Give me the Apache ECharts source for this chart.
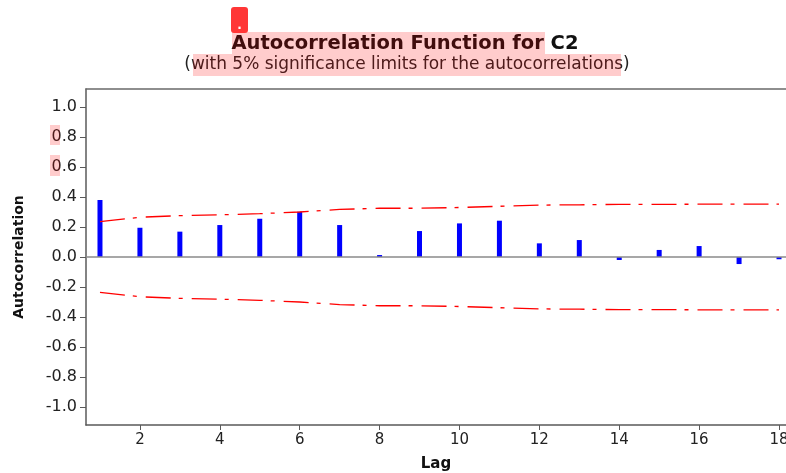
<!DOCTYPE html>
<html>
<head>
<meta charset="utf-8">
<script src="https://cdn.jsdelivr.net/npm/echarts@6/dist/echarts.min.js"></script>
<style>
  html, body { margin: 0; padding: 0; background: #fff; }
  #main { width: 786px; height: 473px; }
</style>
</head>
<body>
<div id="main"></div>
<script>
// lags and values
var lags = [1, 2, 3, 4, 5, 6, 7, 8, 9, 10, 11, 12, 13, 14, 15, 16, 17, 18];
var acf = [0.38, 0.195, 0.169, 0.213, 0.255, 0.302, 0.213, 0.013, 0.173, 0.224,
           0.242, 0.091, 0.113, -0.02, 0.047, 0.073, -0.047, -0.015];
var upperLimit = [0.236, 0.265, 0.276, 0.281, 0.289, 0.300, 0.317, 0.325, 0.325, 0.330,
                  0.338, 0.346, 0.348, 0.351, 0.351, 0.352, 0.352, 0.352];
var lowerLimit = [-0.236, -0.265, -0.276, -0.281, -0.289, -0.300, -0.317, -0.325, -0.325, -0.330,
                  -0.338, -0.346, -0.348, -0.351, -0.351, -0.352, -0.352, -0.352];
var xTicks = [2, 4, 6, 8, 10, 12, 14, 16, 18];
var yTicks = [-1.0, -0.8, -0.6, -0.4, -0.2, 0.0, 0.2, 0.4, 0.6, 0.8, 1.0];

var font = 'DejaVu Sans';
var axisColor = '#5a5a5a';

function pairs(vals) {
	var out = [];
	for (var i = 0; i < lags.length; i++) {
		out.push([lags[i], vals[i]]);
	}
	return out;
}

var myChart = echarts.init(document.getElementById('main'));

var option = {
	animation: false,
	backgroundColor: '#fff',
	grid: { left: 86, right: 0, top: 89, bottom: 48, containLabel: false, outerBoundsMode: 'none' },
	xAxis: [{
		type: 'value',
		min: 0.65,
		max: 18.175,
		name: 'Lag',
		nameLocation: 'middle',
		nameGap: 32,
		nameTextStyle: { fontFamily: font, fontWeight: 'bold', fontSize: 15, color: '#111' },
		axisLine: { show: true, onZero: false, lineStyle: { color: axisColor, width: 1.5 } },
		axisTick: { show: true, length: 5, customValues: xTicks, lineStyle: { color: axisColor } },
		axisLabel: { customValues: xTicks, margin: 8, fontFamily: font, fontSize: 15, color: '#222' },
		splitLine: { show: false }
	}, {
		type: 'value',
		position: 'top',
		min: 0.65,
		max: 18.175,
		axisLine: { show: true, onZero: false, lineStyle: { color: '#6a6a6a', width: 1.5 } },
		axisTick: { show: false },
		axisLabel: { show: false },
		splitLine: { show: false }
	}],
	yAxis: {
		type: 'value',
		min: -1.12,
		max: 1.12,
		name: 'Autocorrelation',
		nameLocation: 'middle',
		nameRotate: 90,
		nameGap: 60,
		nameTextStyle: { fontFamily: font, fontWeight: 'bold', fontSize: 14, color: '#111' },
		axisLine: { show: true, onZero: false, lineStyle: { color: axisColor, width: 1.5 } },
		axisTick: { show: true, length: 6, customValues: yTicks, lineStyle: { color: axisColor } },
		axisLabel: {
			customValues: yTicks, margin: 9, fontFamily: font, fontSize: 16, color: '#222',
			formatter: function (v) { return v.toFixed(1); }
		},
		splitLine: { show: false }
	},
	series: [{
		type: 'bar',
		data: pairs(acf),
		barWidth: 5,
		itemStyle: { color: '#0000ff' },
		markLine: {
			silent: true,
			symbol: 'none',
			label: { show: false },
			lineStyle: { color: '#8a8a8a', width: 1.6, type: 'solid' },
			data: [{ yAxis: 0 }]
		},
		z: 3
	}, {
		type: 'line',
		data: pairs(upperLimit),
		showSymbol: false,
		lineStyle: { color: '#ff0000', width: 1.3, type: [25, 8, 4, 9] },
		z: 4
	}, {
		type: 'line',
		data: pairs(lowerLimit),
		showSymbol: false,
		lineStyle: { color: '#ff0000', width: 1.3, type: [25, 8, 4, 9] },
		z: 4
	}],
	graphic: [
		{ type: 'text', position: [405, 44], silent: true, z: 10,
		  style: { text: 'Autocorrelation Function for C2', font: 'bold 19.5px "DejaVu Sans"',
		           fill: '#111', textAlign: 'center', textVerticalAlign: 'middle' } },
		{ type: 'text', position: [407, 65], silent: true, z: 10,
		  style: { text: '(with 5% significance limits for the autocorrelations)', font: '17px "DejaVu Sans"',
		           fill: '#222', textAlign: 'center', textVerticalAlign: 'middle' } },
		// pink highlight marks that sit on the picture
		{ type: 'rect', shape: { x: 232, y: 32, width: 313, height: 22 }, silent: true, z: 20,
		  style: { fill: 'rgba(255,0,0,0.2)' } },
		{ type: 'rect', shape: { x: 193, y: 54, width: 428, height: 22 }, silent: true, z: 20,
		  style: { fill: 'rgba(255,0,0,0.2)' } },
		{ type: 'rect', shape: { x: 50, y: 125, width: 10, height: 20 }, silent: true, z: 20,
		  style: { fill: 'rgba(255,0,0,0.2)' } },
		{ type: 'rect', shape: { x: 50, y: 155, width: 10, height: 21 }, silent: true, z: 20,
		  style: { fill: 'rgba(255,0,0,0.2)' } },
		{ type: 'rect', shape: { x: 231, y: 7, width: 17, height: 26, r: 3 }, silent: true, z: 20,
		  style: { fill: '#ff3636' } },
		{ type: 'text', position: [239.5, 26], silent: true, z: 21,
		  style: { text: '.', font: 'bold 12px "DejaVu Sans"', fill: '#fff',
		           textAlign: 'center', textVerticalAlign: 'middle' } }
	]
};
myChart.setOption(option);
</script>
</body>
</html>
